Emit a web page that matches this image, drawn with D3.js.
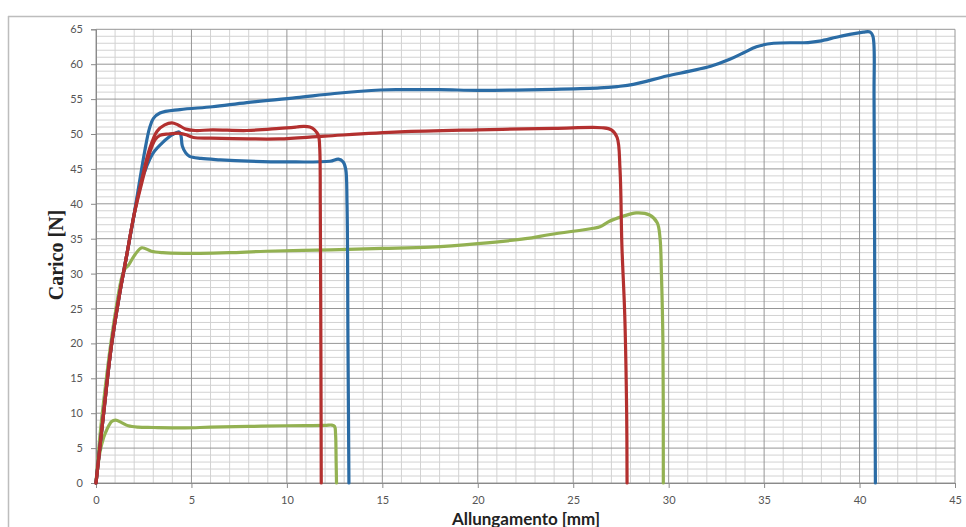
<!DOCTYPE html>
<html>
<head>
<meta charset="utf-8">
<script src="https://cdn.jsdelivr.net/npm/d3@7"></script>
<style>
  html, body { margin: 0; padding: 0; background: #ffffff; }
  svg { display: block; }
</style>
</head>
<body>
<svg id="chart" width="966" height="527"></svg>
<script>
// ---- Data ----
const xTicks = [0, 5, 10, 15, 20, 25, 30, 35, 40, 45];
const yTicks = [0, 5, 10, 15, 20, 25, 30, 35, 40, 45, 50, 55, 60, 65];
const xTitle = "Allungamento [mm]";
const yTitle = "Carico [N]";

// Blue – long test (breaks at ~40.8 mm)
const blue1X = [0, 0.4, 0.8, 1.2, 1.6, 2.0, 2.3, 2.55, 2.8, 3.0, 3.35, 4.4, 6.1, 7.9, 10.5, 12.5, 14.9, 16, 18, 20, 22, 24, 26.4, 27.3, 28.15, 29.9, 31.1, 32.2, 33.2, 33.9, 34.6, 35.5, 37.3, 37.9, 39.0, 40.2, 40.56, 40.7, 40.76, 40.8, 40.83];
const blue1Y = [0, 10, 19.5, 26.5, 32.5, 38.5, 43.5, 47.5, 50.8, 52.2, 53.0, 53.5, 53.9, 54.5, 55.2, 55.8, 56.3, 56.35, 56.35, 56.25, 56.3, 56.4, 56.6, 56.8, 57.1, 58.3, 59.0, 59.7, 60.7, 61.6, 62.5, 63.0, 63.1, 63.3, 64.0, 64.6, 64.6, 64.0, 55, 20, 0];

// Blue – short test (breaks at ~13.2 mm)
const blue2X = [0, 0.4, 0.8, 1.2, 1.6, 2.0, 2.3, 2.66, 3.0, 3.5, 4.0, 4.35, 4.45, 4.52, 4.7, 4.9, 5.5, 6.5, 8, 10, 12.26, 12.7, 12.95, 13.08, 13.15, 13.2, 13.25];
const blue2Y = [0, 10, 19.5, 26.5, 32.5, 38.5, 42.5, 45.4, 47.3, 48.8, 49.9, 50.3, 49.8, 48.3, 47.3, 46.8, 46.5, 46.3, 46.1, 46.0, 46.1, 46.4, 46.0, 45.0, 40, 20, 0];

// Red – short test (breaks at ~11.8 mm)
const red1X = [0, 0.4, 0.8, 1.2, 1.6, 2.0, 2.4, 2.8, 3.2, 3.6, 3.97, 4.3, 4.7, 5.2, 6.1, 7.9, 9.6, 10.5, 10.9, 11.2, 11.45, 11.65, 11.72, 11.75, 11.78, 11.8];
const red1Y = [0, 10, 19.5, 26.5, 32.5, 38.5, 43.5, 47.8, 50.4, 51.3, 51.6, 51.3, 50.7, 50.5, 50.6, 50.5, 50.8, 51.0, 51.1, 51.0, 50.6, 49.8, 48, 40, 20, 0];

// Red – long test (breaks at ~27.8 mm)
const red2X = [0, 0.4, 0.8, 1.2, 1.6, 2.0, 2.4, 2.8, 3.1, 3.35, 3.8, 4.4, 4.8, 5.1, 6, 8, 9.6, 12, 15.9, 20, 24, 26.5, 27.0, 27.3, 27.45, 27.55, 27.7, 27.8, 27.82];
const red2Y = [0, 10, 19.5, 26.5, 32.5, 38.5, 43.0, 47.2, 49.2, 49.8, 50.0, 50.1, 49.8, 49.5, 49.4, 49.3, 49.3, 49.7, 50.3, 50.6, 50.8, 50.9, 50.6, 49.5, 45, 34, 24, 10, 0];

// Green – long test (breaks at ~29.7 mm)
const green1X = [0, 0.23, 0.5, 0.75, 1.05, 1.35, 1.5, 1.7, 2.04, 2.4, 2.9, 3.5, 4.66, 5.45, 7, 8.9, 12.3, 15, 17.5, 20, 22.5, 23.8, 26.06, 26.4, 26.9, 27.6, 28.3, 29.0, 29.4, 29.55, 29.62, 29.7, 29.72];
const green1Y = [0, 7.4, 14, 19.5, 25, 29.5, 30.6, 31.2, 32.7, 33.7, 33.2, 33.0, 32.9, 32.9, 33.0, 33.2, 33.4, 33.6, 33.8, 34.3, 35.0, 35.6, 36.5, 36.7, 37.5, 38.2, 38.7, 38.4, 37.3, 35, 30, 20, 0];

// Green – short test (breaks at ~12.6 mm)
const green2X = [0, 0.2, 0.4, 0.56, 0.82, 1.03, 1.34, 1.69, 2.2, 3, 4.66, 6, 8, 10, 12.0, 12.35, 12.5, 12.55, 12.58, 12.6];
const green2Y = [0, 4.3, 6.5, 7.6, 8.8, 9.0, 8.65, 8.2, 8.0, 7.95, 7.9, 8.0, 8.1, 8.2, 8.25, 8.3, 8.1, 7, 3, 0];

const seriesList = [
  { name: "green2", xs: green2X, ys: green2Y, color: "#93b152" },
  { name: "green1", xs: green1X, ys: green1Y, color: "#93b152" },
  { name: "blue2",  xs: blue2X,  ys: blue2Y,  color: "#2b6ca5" },
  { name: "blue1",  xs: blue1X,  ys: blue1Y,  color: "#2b6ca5" },
  { name: "red2",   xs: red2X,   ys: red2Y,   color: "#b3302f" },
  { name: "red1",   xs: red1X,   ys: red1Y,   color: "#b3302f" }
];

// ---- Layout ----
const svg = d3.select("#chart");
const plotL = 96, plotR = 955, plotT = 29.3, plotB = 483;

const x = d3.scaleLinear().domain([0, 45]).range([plotL, plotR]);
const y = d3.scaleLinear().domain([0, 65]).range([plotB, plotT]);

// outer frame
svg.append("line").attr("x1", 8).attr("x2", 966).attr("y1", 16.5).attr("y2", 16.5)
  .attr("stroke", "#bdbdbd").attr("stroke-width", 1.5);
svg.append("line").attr("x1", 8.5).attr("x2", 8.5).attr("y1", 16).attr("y2", 527)
  .attr("stroke", "#bdbdbd").attr("stroke-width", 1.5);

// minor grid
const g = svg.append("g");
g.selectAll("line.vminor").data(d3.range(0, 46, 1).filter(v => v % 5 !== 0)).join("line")
  .attr("x1", d => x(d)).attr("x2", d => x(d)).attr("y1", plotT).attr("y2", plotB)
  .attr("stroke", "#d2d2d2").attr("stroke-width", 1);
g.selectAll("line.hminor").data(d3.range(0, 66, 1).filter(v => v % 5 !== 0)).join("line")
  .attr("y1", d => y(d)).attr("y2", d => y(d)).attr("x1", plotL).attr("x2", plotR)
  .attr("stroke", "#d2d2d2").attr("stroke-width", 1);
// major grid
g.selectAll("line.vmajor").data(xTicks).join("line")
  .attr("x1", d => x(d)).attr("x2", d => x(d)).attr("y1", plotT).attr("y2", plotB)
  .attr("stroke", "#969696").attr("stroke-width", 1);
g.selectAll("line.hmajor").data(yTicks).join("line")
  .attr("y1", d => y(d)).attr("y2", d => y(d)).attr("x1", plotL).attr("x2", plotR)
  .attr("stroke", "#969696").attr("stroke-width", 1);

// axes
const xAxis = d3.axisBottom(x).tickValues(xTicks).tickSize(5).tickPadding(8).tickFormat(d3.format("d"));
const yAxis = d3.axisLeft(y).tickValues(yTicks).tickSize(5).tickPadding(8).tickFormat(d3.format("d"));
const gx = svg.append("g").attr("transform", `translate(0,${plotB})`).call(xAxis);
const gy = svg.append("g").attr("transform", `translate(${plotL},0)`).call(yAxis);
[gx, gy].forEach(ax => {
  ax.select(".domain").attr("stroke", "#8a8a8a");
  ax.selectAll(".tick line").attr("stroke", "#8a8a8a");
  ax.selectAll(".tick text").attr("fill", "#555").attr("font-family", "Lato, 'Open Sans', sans-serif").attr("font-size", 11);
});

// curves
const line = d3.line().x(d => x(d[0])).y(d => y(d[1])).curve(d3.curveCatmullRom.alpha(0.5));
seriesList.forEach(s => {
  const pts = s.xs.map((v, i) => [v, s.ys[i]]);
  svg.append("path").datum(pts).attr("d", line)
    .attr("fill", "none").attr("stroke", s.color).attr("stroke-width", 3.2)
    .attr("stroke-linejoin", "round").attr("stroke-linecap", "round");
});

// titles
svg.append("text").attr("x", 526).attr("y", 524.5).attr("text-anchor", "middle")
  .attr("font-family", "Lato, 'Liberation Sans', sans-serif").attr("font-weight", "bold")
  .attr("font-size", 17).attr("fill", "#222").text(xTitle);
svg.append("text").attr("transform", "translate(63,255) rotate(-90)").attr("text-anchor", "middle")
  .attr("font-family", "'Liberation Serif', 'DejaVu Serif', serif").attr("font-weight", "bold")
  .attr("font-size", 20).attr("fill", "#222").text(yTitle);
</script>
</body>
</html>
